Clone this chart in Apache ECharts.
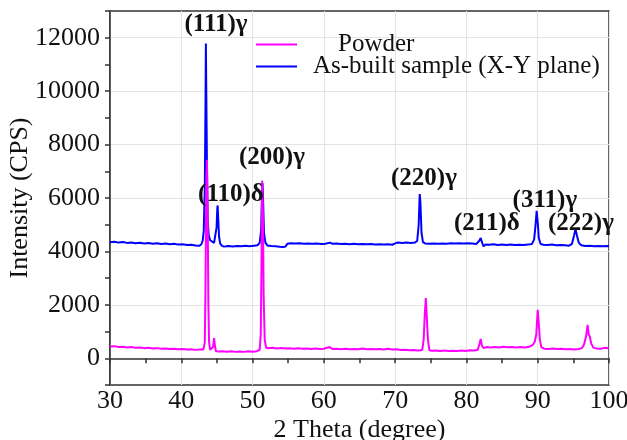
<!DOCTYPE html>
<html>
<head>
<meta charset="utf-8">
<script src="https://cdn.jsdelivr.net/npm/echarts@6/dist/echarts.min.js"></script>
<style>
html, body { margin: 0; padding: 0; background: #fff; }
#chart { width: 627px; height: 440px; }
</style>
</head>
<body>
<div id="chart"></div>
<script>
// 2 Theta (deg) / intensity (CPS)
var builtTheta = [30.0, 30.6, 31.2, 31.8, 32.4, 33.0, 33.6, 34.2, 34.8, 35.4, 36.0, 36.6, 37.2, 37.8, 38.4, 39.0, 39.6, 40.2, 40.8, 41.4,
	42.0, 42.5, 42.8, 43.0, 43.15, 43.3, 43.4, 43.45, 43.5, 43.6, 43.7, 43.85, 44.05, 44.3, 44.6, 44.8, 44.95, 45.05, 45.1, 45.2,
	45.3, 45.45, 45.7, 46.0, 46.6, 47.2, 47.8, 48.4, 49.0, 49.6, 50.2, 50.7, 51.0, 51.2, 51.3, 51.4, 51.5, 51.6, 51.8, 52.1,
	52.6, 53.2, 53.8, 54.3, 54.6, 54.9, 55.3, 56.0, 56.6, 57.2, 57.8, 58.4, 59.0, 59.6, 60.2, 60.9, 61.2, 61.8, 62.4, 63.0,
	63.6, 64.2, 64.8, 65.4, 66.0, 66.6, 67.2, 67.8, 68.4, 69.0, 69.6, 70.0, 70.4, 71.0, 71.6, 72.2, 72.8, 73.1, 73.3, 73.45,
	73.55, 73.7, 73.9, 74.2, 74.8, 75.4, 76.0, 76.6, 77.2, 77.8, 78.4, 79.0, 79.6, 80.2, 80.8, 81.4, 81.8, 82.0, 82.2, 82.4,
	82.7, 83.2, 83.8, 84.4, 85.0, 85.6, 86.2, 86.8, 87.4, 88.0, 88.6, 89.2, 89.5, 89.7, 89.85, 90.0, 90.15, 90.4, 90.8, 91.4,
	92.0, 92.6, 93.2, 93.8, 94.4, 94.8, 95.1, 95.3, 95.5, 95.75, 96.1, 96.7, 97.3, 97.9, 98.5, 99.1, 99.7, 100.0];
var builtCps = [4340, 4365, 4330, 4350, 4320, 4335, 4305, 4325, 4300, 4315, 4290, 4305, 4280, 4295, 4270, 4285, 4255, 4265, 4240, 4250,
	4220, 4210, 4260, 4400, 4750, 6400, 9600, 11780, 10200, 7200, 5200, 4600, 4420, 4360, 4320, 4380, 4900, 5600, 5720, 5100,
	4550, 4300, 4210, 4180, 4200, 4185, 4205, 4190, 4210, 4195, 4215, 4230, 4320, 4800, 5900, 6550, 5700, 4700, 4330, 4220,
	4200, 4190, 4175, 4165, 4180, 4290, 4310, 4295, 4310, 4290, 4300, 4285, 4295, 4280, 4290, 4330, 4285, 4295, 4280, 4290,
	4270, 4285, 4270, 4280, 4265, 4275, 4260, 4270, 4255, 4265, 4250, 4300, 4335, 4320, 4330, 4315, 4330, 4400, 5000, 6150,
	5800, 4700, 4350, 4300, 4290, 4300, 4285, 4300, 4290, 4305, 4295, 4310, 4300, 4310, 4295, 4280, 4400, 4500, 4330, 4190,
	4260, 4250, 4265, 4245, 4255, 4240, 4255, 4240, 4250, 4240, 4255, 4280, 4450, 5000, 5520, 5100, 4500, 4280, 4250, 4240,
	4255, 4235, 4245, 4230, 4215, 4280, 4600, 4840, 4600, 4330, 4230, 4205, 4215, 4195, 4205, 4190, 4200, 4195];

var powderTheta = [30.0, 30.6, 31.2, 31.8, 32.4, 33.0, 33.6, 34.2, 34.8, 35.4, 36.0, 36.6, 37.2, 37.8, 38.4, 39.0, 39.6, 40.2, 40.8, 41.4,
	42.0, 42.6, 43.1, 43.3, 43.4, 43.5, 43.6, 43.7, 43.8, 43.9, 44.05, 44.3, 44.45, 44.6, 44.7, 44.85, 45.2, 45.8, 46.4, 47.0,
	47.6, 48.2, 48.8, 49.4, 50.0, 50.6, 51.0, 51.15, 51.25, 51.35, 51.45, 51.55, 51.7, 51.9, 52.2, 52.8, 53.4, 54.0, 54.6, 55.2,
	55.8, 56.4, 57.0, 57.6, 58.2, 58.8, 59.4, 60.0, 60.8, 61.2, 61.8, 62.4, 63.0, 63.6, 64.2, 64.8, 65.4, 66.0, 66.6, 67.2,
	67.8, 68.4, 69.0, 69.6, 70.2, 70.8, 71.4, 72.0, 72.6, 73.2, 73.8, 74.0, 74.15, 74.3, 74.45, 74.6, 74.8, 75.1, 75.7, 76.3,
	76.9, 77.5, 78.1, 78.7, 79.3, 79.9, 80.5, 81.1, 81.6, 81.85, 82.0, 82.15, 82.4, 82.8, 83.4, 84.0, 84.6, 85.2, 85.8, 86.4,
	87.0, 87.6, 88.2, 88.8, 89.3, 89.6, 89.8, 90.0, 90.15, 90.3, 90.5, 90.9, 91.5, 92.1, 92.7, 93.3, 93.9, 94.5, 95.1, 95.7,
	96.2, 96.5, 96.8, 97.0, 97.15, 97.3, 97.5, 97.8, 98.2, 98.8, 99.4, 100.0];
var powderCps = [440, 455, 420, 435, 405, 420, 390, 405, 380, 395, 365, 380, 355, 370, 345, 360, 335, 350, 325, 340,
	315, 330, 330, 600, 2800, 6200, 7430, 5600, 2000, 600, 320, 300, 420, 755, 520, 270, 250, 265, 245, 260,
	240, 255, 240, 260, 245, 265, 320, 900, 3500, 6650, 5500, 2400, 700, 390, 380, 395, 370, 385, 365, 380,
	360, 375, 355, 370, 350, 365, 345, 360, 420, 350, 360, 340, 355, 340, 350, 335, 365, 340, 350, 335,
	345, 330, 355, 325, 335, 310, 320, 300, 310, 295, 310, 700, 1600, 2255, 1500, 700, 300, 280, 295, 275,
	290, 270, 285, 270, 290, 275, 300, 290, 320, 560, 720, 500, 380, 420, 400, 425, 405, 430, 410, 425,
	405, 420, 400, 430, 500, 630, 900, 1815, 1300, 700, 420, 360, 350, 365, 345, 355, 340, 350, 330, 345,
	380, 520, 840, 1255, 900, 820, 560, 400, 370, 360, 390, 380];

// peak labels, anchored at the centre of the text in axis units
var peakText = ['(111)γ', '(110)δ', '(200)γ', '(220)γ', '(211)δ', '(311)γ', '(222)γ'];
var peakAt = [[44.87, 12490], [46.97, 6125], [52.72, 7510], [74.04, 6720], [82.87, 5040], [91.0, 5900], [96.06, 5040]];

var FONT = "'Liberation Serif', 'Times New Roman', serif";

function pairs(xs, ys) {
	var out = [];
	for (var i = 0; i < xs.length; i++) {
		out.push([xs[i], ys[i]]);
	}
	return out;
}

var chart = echarts.init(document.getElementById('chart'), null, { renderer: 'canvas' });

var option = {
	animation: false,
	backgroundColor: '#fff',
	grid: {
		left: 110, right: 18, top: 11, bottom: 55,
		outerBoundsMode: 'none', containLabel: false,
		show: true, borderColor: '#333', borderWidth: 1.5, backgroundColor: 'transparent'
	},
	legend: [{
		left: 256, top: 32, padding: 0,
		icon: 'rect', itemWidth: 41, itemHeight: 2,
		data: ['Powder'],
		textStyle: { fontFamily: FONT, fontSize: 25, color: '#111', padding: [0, 0, 0, 36] }
	}, {
		left: 256, top: 54, padding: 0,
		icon: 'rect', itemWidth: 41, itemHeight: 2,
		data: ['As-built sample (X-Y plane)'],
		textStyle: { fontFamily: FONT, fontSize: 25, color: '#111', padding: [0, 0, 0, 11] }
	}],
	xAxis: {
		type: 'value', min: 30, max: 100, interval: 5,
		name: '2 Theta (degree)', nameLocation: 'middle', nameGap: 32, nameMoveOverlap: false,
		nameTextStyle: { fontFamily: FONT, fontSize: 26, color: '#111' },
		axisLine: { lineStyle: { color: '#333', width: 1.5 } },
		axisTick: { length: 5, lineStyle: { color: '#333', width: 1.5 } },
		axisLabel: {
			fontFamily: FONT, fontSize: 26, color: '#111', margin: 3,
			formatter: function (v) { return v % 10 === 0 ? v : ''; }
		},
		splitLine: { show: true, lineStyle: { color: ['#e4e4e4', 'transparent'], width: 1 } }
	},
	yAxis: {
		type: 'value', min: -1000, max: 13000, interval: 1000,
		name: 'Intensity (CPS)', nameLocation: 'middle', nameGap: 77, nameMoveOverlap: false,
		nameTextStyle: { fontFamily: FONT, fontSize: 26, color: '#111' },
		axisLine: { show: true, lineStyle: { color: '#333', width: 1.5 } },
		axisTick: { show: true, length: 5, lineStyle: { color: '#333', width: 1.5 } },
		axisLabel: {
			fontFamily: FONT, fontSize: 26, color: '#111', margin: 10,
			formatter: function (v) { return (v >= 0 && v % 2000 === 0 && v <= 12000) ? v : ''; }
		},
		splitLine: { show: true, lineStyle: { color: ['transparent', '#e4e4e4'], width: 1 } }
	},
	series: [{
		name: 'As-built sample (X-Y plane)',
		type: 'line',
		symbol: 'none',
		data: pairs(builtTheta, builtCps),
		lineStyle: { color: '#0000ff', width: 2 },
		itemStyle: { color: '#0000ff' }
	}, {
		name: 'Powder',
		type: 'line',
		symbol: 'none',
		data: pairs(powderTheta, powderCps),
		lineStyle: { color: '#ff00ff', width: 2 },
		itemStyle: { color: '#ff00ff' }
	}]
};

chart.setOption(option);

// peak labels placed through the axes
var labels = [];
for (var i = 0; i < peakText.length; i++) {
	var p = chart.convertToPixel({ gridIndex: 0 }, peakAt[i]);
	labels.push({
		type: 'text',
		x: p[0], y: p[1],
		style: {
			text: peakText[i], fill: '#111',
			font: 'bold 25px ' + FONT,
			align: 'center', verticalAlign: 'middle'
		},
		z: 10
	});
}
chart.setOption({ graphic: labels });
</script>
</body>
</html>
